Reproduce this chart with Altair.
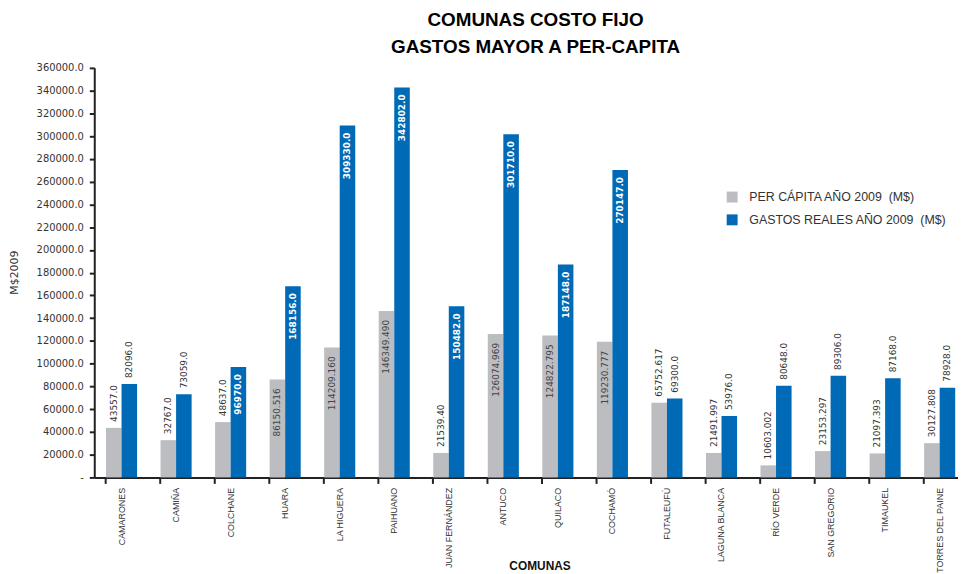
import altair as alt
import pandas as pd

title_lines = ["COMUNAS COSTO FIJO", "GASTOS MAYOR A PER-CAPITA"]

comunas = ["CAMARONES", "CAMIÑA", "COLCHANE", "HUARA", "LA HIGUERA", "PAIHUANO",
           "JUAN FERNÁNDEZ", "ANTUCO", "QUILACO", "COCHAMÓ", "FUTALEUFÚ",
           "LAGUNA BLANCA", "RÍO VERDE", "SAN GREGORIO", "TIMAUKEL", "TORRES DEL PAINE"]

per_capita = [43557.0, 32767.0, 48637.0, 86150.516, 114209.160, 146349.490, 21539.40,
              126074.969, 124822.795, 119230.777, 65752.617, 21491.997, 10603.002,
              23153.297, 21097.393, 30127.808]
per_capita_labels = ["43557.0", "32767.0", "48637.0", "86150.516", "114209.160", "146349.490",
                     "21539.40", "126074.969", "124822.795", "119230.777", "65752.617",
                     "21491.997", "10603.002", "23153.297", "21097.393", "30127.808"]

gastos = [82096.0, 73059.0, 96970.0, 168156.0, 309330.0, 342802.0, 150482.0, 301710.0,
          187148.0, 270147.0, 69300.0, 53976.0, 80648.0, 89306.0, 87168.0, 78928.0]
gastos_labels = ["%.1f" % v for v in gastos]

series = ["PER CÁPITA AÑO 2009\u00a0 (M$)", "GASTOS REALES AÑO 2009\u00a0 (M$)"]
colors = ["#bcbdc1", "#006ab6"]
y_ticks = [20000 * i for i in range(19)]

rows = []
for c, v, l in zip(comunas, per_capita, per_capita_labels):
    rows.append({"comuna": c, "serie": series[0], "valor": v, "label": l,
                 "inside": v > 80000, "is_blue": False})
for c, v, l in zip(comunas, gastos, gastos_labels):
    rows.append({"comuna": c, "serie": series[1], "valor": v, "label": l,
                 "inside": v > 90000, "is_blue": True})
df = pd.DataFrame(rows)

xscale = alt.Scale(paddingInner=0.43, paddingOuter=0.215)
xoff = alt.XOffset("serie:N", sort=series, scale=alt.Scale(paddingInner=0, paddingOuter=0))
yaxis = alt.Axis(values=y_ticks,
                 labelExpr="datum.value == 0 ? '-' : format(datum.value, '.1f')",
                 title="M$2009", grid=False, tickSize=5, tickWidth=2,
                 tickColor="#222", domainColor="#222", domainWidth=2,
                 labelFont="DejaVu Sans", labelFontSize=10, labelColor="#333",
                 labelPadding=6,
                 titleFont="DejaVu Sans", titleFontSize=11, titleFontWeight="normal",
                 titleColor="#333", titleX=-80, titleY=206, titleAngle=270,
                 titleAlign="center", titleBaseline="middle")
yenc = alt.Y("valor:Q", scale=alt.Scale(domain=[0, 360000], nice=False, zero=True), axis=yaxis)

bars = alt.Chart(df).mark_bar().encode(
    x=alt.X("comuna:N", sort=comunas, scale=xscale,
            axis=alt.Axis(orient="bottom", title="COMUNAS", labelAngle=270, ticks=False,
                          tickSize=0, labelPadding=10, domainColor="#222", domainWidth=2,
                          labelFont="Liberation Sans", labelFontSize=9,
                          labelColor="#333", labelLimit=200,
                          titleFont="Liberation Sans", titleFontSize=12, titleFontWeight="bold",
                          titleColor="#111", titleX=449, titleY=89, titleBaseline="middle")),
    xOffset=xoff,
    y=yenc,
    color=alt.Color("serie:N", sort=series,
                    scale=alt.Scale(domain=series, range=colors),
                    legend=alt.Legend(orient="none", legendX=637, legendY=124, title=None,
                                      symbolType="square", symbolSize=121,
                                      symbolStrokeWidth=0, labelFont="Liberation Sans",
                                      labelFontSize=12.5, labelColor="#333", labelOffset=11,
                                      rowPadding=10, padding=0, labelLimit=300)),
)

xnone = alt.X("comuna:N", sort=comunas, scale=xscale, axis=None)

text_out = alt.Chart(df).transform_filter("!datum.inside").mark_text(
    angle=270, align="left", baseline="middle", dx=6,
    font="DejaVu Sans", fontSize=9, color="#333"
).encode(x=xnone, xOffset=xoff, y=yenc, text="label:N")

text_in_gray = alt.Chart(df).transform_filter(
    "datum.inside && !datum.is_blue").mark_text(
    angle=270, align="right", baseline="middle", dx=-9,
    font="DejaVu Sans", fontSize=9, color="#444"
).encode(x=xnone, xOffset=xoff, y=yenc, text="label:N")

text_in_blue = alt.Chart(df).transform_filter(
    "datum.inside && datum.is_blue").mark_text(
    angle=270, align="right", baseline="middle", dx=-7,
    font="DejaVu Sans", fontSize=9, fontWeight="bold", color="white"
).encode(x=xnone, xOffset=xoff, y=yenc, text="label:N")

ticks = alt.Chart(df).mark_bar(opacity=0).encode(
    x=alt.X("comuna:N", sort=comunas, scale=xscale,
            axis=alt.Axis(orient="bottom", bandPosition=0, labels=False, domain=False,
                          tickSize=6, tickWidth=2, tickColor="#222", title=None)),
    y=yenc,
)

title_df = pd.DataFrame({"t": ["\n".join(title_lines)]})
title_text = alt.Chart(title_df).mark_text(
    lineBreak="\n", font="Liberation Sans", fontSize=19, fontWeight="bold",
    color="#000", align="center", baseline="top", lineHeight=27
).encode(x=alt.value(445), y=alt.value(-57), text="t:N")

chart = alt.layer(bars, text_out, text_in_gray, text_in_blue, ticks, title_text).resolve_axis(
    x="independent"
).properties(
    width=880, height=413,
    autosize=alt.AutoSizeParams(type="none"),
    padding={"left": 87, "top": 58, "right": -9, "bottom": 95},
).configure_view(stroke=None)

chart.save("out.html", embed_options={"renderer": "svg", "actions": False})
